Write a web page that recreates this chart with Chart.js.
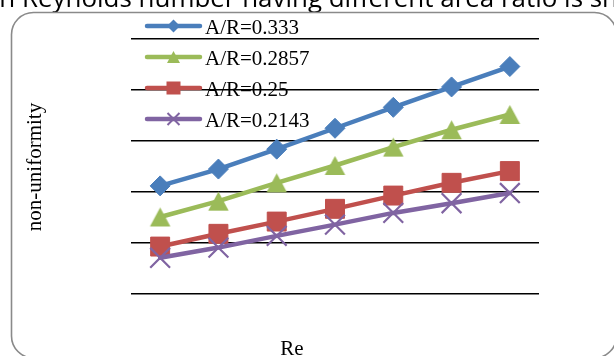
<!DOCTYPE html>
<html>
<head>
<meta charset="utf-8">
<script src="https://cdn.jsdelivr.net/npm/chart.js@4.4.1/dist/chart.umd.min.js"></script>
<style>
  html, body { margin: 0; padding: 0; background: #fff; overflow: hidden; }
  #wrap { position: relative; width: 614px; height: 356px; }
</style>
</head>
<body>
<div id="wrap"><canvas id="c" width="614" height="356"></canvas></div>
<script>
// Reynolds-number steps (the axis carries no tick labels)
const categories = ['1', '2', '3', '4', '5', '6', '7'];

// non-uniformity for each area ratio
const ar0333  = [2.12, 2.45, 2.84, 3.25, 3.66, 4.06, 4.46];
const ar02857 = [1.51, 1.82, 2.18, 2.52, 2.88, 3.22, 3.52];
const ar025   = [0.93, 1.18, 1.42, 1.67, 1.93, 2.18, 2.41];
const ar02143 = [0.71, 0.91, 1.14, 1.36, 1.59, 1.78, 1.98];

const seriesNames = ['A/R=0.333', 'A/R=0.2857', 'A/R=0.25', 'A/R=0.2143'];
const yTicks = [0, 1, 2, 3, 4, 5];

const BLUE = '#4a7ebb', GREEN = '#9bbb59', RED = '#c0504d', PURPLE = '#8064a2';
const SERIF = '"Liberation Serif", "Times New Roman", serif';

// Triangle marker centred on its bounding box
function triangleCanvas(w, h, color) {
  const c = document.createElement('canvas');
  c.width = Math.ceil(w) + 2; c.height = Math.ceil(h) + 2;
  const g = c.getContext('2d');
  const cx = c.width / 2, cy = c.height / 2;
  g.fillStyle = color;
  g.beginPath();
  g.moveTo(cx, cy - h / 2);
  g.lineTo(cx + w / 2, cy + h / 2);
  g.lineTo(cx - w / 2, cy + h / 2);
  g.closePath();
  g.fill();
  return c;
}
const triBig = triangleCanvas(20.5, 19, GREEN);
const triSmall = triangleCanvas(13, 12, GREEN);

function lineSet(label, data, color, style, radius, order, pbw) {
  return {
    label, data, order,
    borderColor: color, backgroundColor: color,
    borderWidth: 4.5, borderCapStyle: 'round', borderJoinStyle: 'round',
    tension: 0, fill: false,
    pointStyle: style, pointRadius: radius, pointHoverRadius: radius,
    pointBackgroundColor: color, pointBorderColor: color, pointBorderWidth: pbw
  };
}

const datasets = [
  lineSet(seriesNames[0], ar0333, BLUE, 'rectRot', 10, 4, 1),
  lineSet(seriesNames[1], ar02857, GREEN, triBig, 10, 3, 0),
  lineSet(seriesNames[2], ar025, RED, 'rect', 13.4, 2, 1),
  lineSet(seriesNames[3], ar02143, PURPLE, 'crossRot', 14, 1, 2.2)
];

function legendMarker(ctx, i, x, y) {
  const color = datasets[i].borderColor;
  ctx.save();
  ctx.fillStyle = color; ctx.strokeStyle = color;
  if (i === 0) {
    const r = 6.5;
    ctx.beginPath();
    ctx.moveTo(x - r, y); ctx.lineTo(x, y - r); ctx.lineTo(x + r, y); ctx.lineTo(x, y + r);
    ctx.closePath(); ctx.fill();
  } else if (i === 1) {
    ctx.drawImage(triSmall, x - triSmall.width / 2, y - triSmall.height / 2);
  } else if (i === 2) {
    ctx.fillRect(x - 7, y - 6.5, 14, 13);
  } else {
    const r = 6;
    ctx.lineWidth = 2;
    ctx.beginPath();
    ctx.moveTo(x - r, y - r); ctx.lineTo(x + r, y + r);
    ctx.moveTo(x + r, y - r); ctx.lineTo(x - r, y + r);
    ctx.stroke();
  }
  ctx.restore();
}

const decorations = {
  id: 'decorations',
  beforeDraw(chart) {
    const ctx = chart.ctx;
    ctx.save();
    // caption line running above the chart frame
    const lead = 'with ';
    const body = 'Reynolds number having different area ratio is ';
    ctx.font = '100px "Open Sans", "Liberation Sans", sans-serif';
    const size = 100 * 568 / ctx.measureText(body).width;
    ctx.font = size.toFixed(2) + 'px "Open Sans", "Liberation Sans", sans-serif';
    ctx.fillStyle = '#000';
    ctx.textBaseline = 'alphabetic';
    ctx.textAlign = 'left';
    const startX = 22 - ctx.measureText(lead).width;
    ctx.fillText(lead + body + 'shown below.', startX, 7);

    // rounded chart frame (its lower and right edges run past the canvas)
    ctx.strokeStyle = '#8a8a8a';
    ctx.lineWidth = 1.6;
    ctx.beginPath();
    ctx.roundRect(11.5, 12.5, 605, 345.5, 22);
    ctx.stroke();
    ctx.restore();
  },
  afterDraw(chart) {
    const ctx = chart.ctx;
    ctx.save();
    ctx.fillStyle = '#000';
    ctx.font = '21px ' + SERIF;

    // axis titles
    ctx.textAlign = 'center';
    ctx.textBaseline = 'alphabetic';
    ctx.fillText('Re', 292, 355);
    ctx.save();
    ctx.translate(41, 167);
    ctx.rotate(-Math.PI / 2);
    ctx.fillText('non-uniformity', 0, 0);
    ctx.restore();

    // legend in the upper left of the plot
    ctx.textAlign = 'left';
    seriesNames.forEach((name, i) => {
      const y = 26 + 31 * i;
      ctx.save();
      ctx.strokeStyle = datasets[i].borderColor;
      ctx.lineWidth = 4.5;
      ctx.lineCap = 'round';
      ctx.beginPath();
      ctx.moveTo(147, y); ctx.lineTo(200, y);
      ctx.stroke();
      ctx.restore();
      legendMarker(ctx, i, 173.5, y);
      ctx.fillStyle = '#000';
      ctx.fillText(name, 205, y + 7.5);
    });
    ctx.restore();
  }
};

new Chart(document.getElementById('c'), {
  type: 'line',
  data: { labels: categories, datasets },
  plugins: [decorations],
  options: {
    responsive: false,
    animation: false,
    devicePixelRatio: 1,
    layout: { padding: { left: 131, right: 75, top: 39, bottom: 62 } },
    plugins: { legend: { display: false }, tooltip: { enabled: false } },
    scales: {
      x: {
        type: 'category', offset: true,
        grid: { display: false, drawTicks: false },
        border: { display: false },
        ticks: { display: false },
        afterFit(s) { s.height = 0; }
      },
      y: {
        min: yTicks[0], max: yTicks[yTicks.length - 1],
        afterBuildTicks(s) { s.ticks = yTicks.map(v => ({ value: v })); },
        ticks: { display: false },
        grid: { color: '#000', lineWidth: 1.5, drawTicks: false },
        border: { display: false },
        afterFit(s) { s.width = 0; }
      }
    }
  }
});
</script>
</body>
</html>
